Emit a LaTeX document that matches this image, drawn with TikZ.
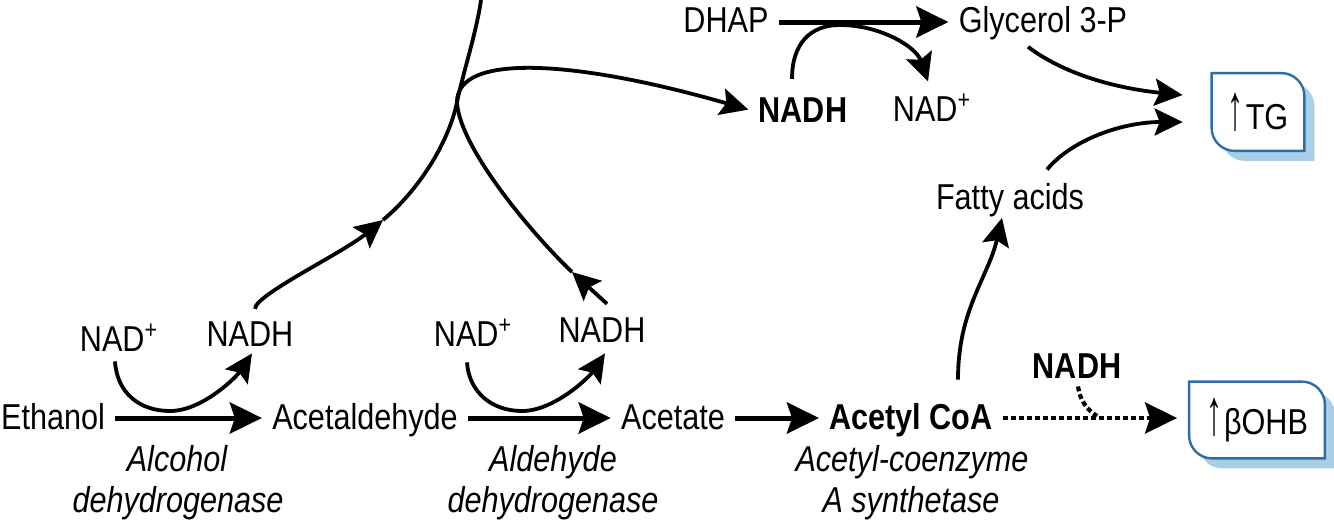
\documentclass[tikz,border=0pt]{standalone}
\usepackage{fontspec}
\setmainfont{Liberation Sans}[FakeStretch=0.85]
\usetikzlibrary{arrows.meta,calc,backgrounds}
\definecolor{boxblue}{HTML}{2D6EA6}
\definecolor{shadeblue}{HTML}{A9CFE8}
\newcommand\uparr{\scalebox{1.05}[1.8]{↑}\kern1pt}
\begin{document}
\begin{tikzpicture}[x=0.5pt,y=-0.5pt,
  lbl/.style={inner xsep=5pt, inner ysep=3pt, anchor=base, font=\fontsize{18}{21}\selectfont},
  blbl/.style={lbl, font=\fontsize{18}{21}\selectfont\bfseries},
  enz/.style={lbl, font=\fontsize{18}{21}\selectfont\itshape},
  tagbox/.style={inner sep=0pt, font=\fontsize{18}{21}\selectfont},
  rx/.style={line width=2.5pt, -{Stealth[length=16pt,width=15.5pt,inset=2.5pt]}},
  cx/.style={line width=1.9pt, -{Stealth[length=14pt,width=13.5pt,inset=2.5pt]}},
  plain/.style={line width=1.9pt},
  dotx/.style={line width=2.1pt, dash pattern=on 2.5pt off 1.5pt},
  dotarr/.style={dotx, -{Stealth[length=16pt,width=15.5pt,inset=2.5pt]}},
  shade/.style={fill=shadeblue},
  outline/.style={draw=boxblue, line width=1.2pt, fill=white},
]
\begin{scope}[on background layer]
  \fill[white] (0,0) rectangle (1334,531);
\end{scope}
\useasboundingbox (0,0) rectangle (1334,531);

\coordinate (r1) at (0,418);
\coordinate (r0) at (0,22);

% main row
\node[lbl] (eth) at (53,429) {Ethanol};
\node[lbl] (acd) at (365,429) {Acetaldehyde};
\node[lbl] (act) at (673,429) {Acetate};
\node[blbl] (acoa) at (911,429) {Acetyl CoA};
\node[tagbox, minimum width=67.5pt, minimum height=38pt] (bohb) at (1257,420) {\uparr βOHB};

% enzymes
\node[enz] (e1a) at (177,471) {Alcohol};
\node[enz] (e1b) at (178,512) {dehydrogenase};
\node[enz] (e2a) at (553,471) {Aldehyde};
\node[enz] (e2b) at (553,512) {dehydrogenase};
\node[enz] (e3a) at (912,471) {Acetyl-coenzyme};
\node[enz] (e3b) at (911,512) {A synthetase};

% cofactors
\node[lbl] (nad1) at (119,351) {NAD\textsuperscript{+}};
\node[lbl] (nadh1) at (250,346) {NADH};
\node[lbl] (nad2) at (473,346) {NAD\textsuperscript{+}};
\node[lbl] (nadh2) at (602,342) {NADH};
\node[blbl] (nadhr) at (1077,378) {NADH};

% top
\node[lbl] (dhap) at (726,32) {DHAP};
\node[lbl] (gly) at (1043,32) {Glycerol 3-P};
\node[blbl] (nadhb) at (803,122) {NADH};
\node[lbl] (nad3) at (932,121) {NAD\textsuperscript{+}};
\node[lbl] (fa) at (1010,209) {Fatty acids};
\node[tagbox, minimum width=46pt, minimum height=38.5pt] (tg) at (1258,112) {\uparr TG};

% boxes
\begin{scope}[on background layer]
\foreach \b in {tg,bohb}{
  \fill[shade] ([shift={(10,10)}]\b.north west) -- ([shift={(10,10)},xshift=-11.5pt]\b.north east)
     arc[start angle=90,end angle=0,radius=11.5pt] -- ([shift={(10,10)}]\b.south east)
     -- ([shift={(10,10)},xshift=11.5pt]\b.south west)
     arc[start angle=270,end angle=180,radius=11.5pt] -- cycle;
  \path[outline] (\b.north west) -- ([xshift=-11.5pt]\b.north east)
     arc[start angle=90,end angle=0,radius=11.5pt] -- (\b.south east)
     -- ([xshift=11.5pt]\b.south west)
     arc[start angle=270,end angle=180,radius=11.5pt] -- cycle;
}
\end{scope}

% main arrows
\draw[rx] (eth.east|-r1) -- (acd.west|-r1);
\draw[rx] (acd.east|-r1) -- (act.west|-r1);
\draw[rx] (act.east|-r1) -- (acoa.west|-r1);
\coordinate (bt) at ($(bohb.west|-r1)+(-12,0)$);
\draw[dotarr] (acoa.east|-r1) -- (bt);
\coordinate (j2) at (1097,416);
\draw[dotx] ($(nadhr.south)+(1,2)$) .. controls +(2,14) and +(-10,-6) .. (j2);
\draw[rx] (dhap.east|-r0) -- (gly.west|-r0);

% cofactor arcs
\coordinate (b1) at (170,411);
\draw[cx] ($(nad1.south)+(-4,4)$) .. controls +(2,32) and +(-30,0) .. (b1)
   .. controls +(32,0) and +(-16,24) .. ($(nadh1.south)+(2,1)$);
\coordinate (b2) at (522,411);
\draw[cx] ($(nad2.south)+(-6,10)$) .. controls +(2,30) and +(-30,0) .. (b2)
   .. controls +(32,0) and +(-16,24) .. ($(nadh2.south)+(3,5)$);
\coordinate (b3) at (840,25);
\draw[cx] ($(nadhb.north)+(-11,-12)$) .. controls +(0,-35) and +(-30,0) .. (b3)
   .. controls +(40,0) and +(-12,-35) .. ($(nad3.north)+(-4,-6)$);

% NADH shuttles
\coordinate (m1) at (383,220);
\coordinate (jn) at (457,102);
\coordinate (tp) at (481,0);
\draw[cx] ($(nadh1.north)+(5,-6)$) .. controls +(0,-14) and +(-42,34) .. (m1);
\draw[plain] (m1) .. controls +(36,-30) and +(-8,40) .. (jn) .. controls +(5,-25) and +(-4,30) .. (tp);
\coordinate (m2) at (572,272);
\draw[cx] ($(nadh2.north)+(5,-7)$) -- (m2);
\draw[cx] (m2) .. controls +(-40,-38) and +(2,45) .. (jn) .. controls +(0,-50) and +(-170,-49) .. (nadhb.west);

% to TG and fatty acids
\coordinate (tgi1) at ($(tg.west)+(-29,-17)$);
\coordinate (tgi2) at ($(tg.west)+(-29,10)$);
\draw[cx] ($(gly.south)+(-15,1)$) .. controls +(40,30) and +(-60,-6) .. (tgi1);
\draw[cx] ($(fa.north)+(37,-7)$) .. controls +(25,-30) and +(-60,0) .. (tgi2);
\draw[cx] ($(acoa.north)+(47,-17)$) .. controls +(0,-70) and +(-14,60) .. ($(fa.south)+(-8,-5)$);
\end{tikzpicture}
\end{document}
